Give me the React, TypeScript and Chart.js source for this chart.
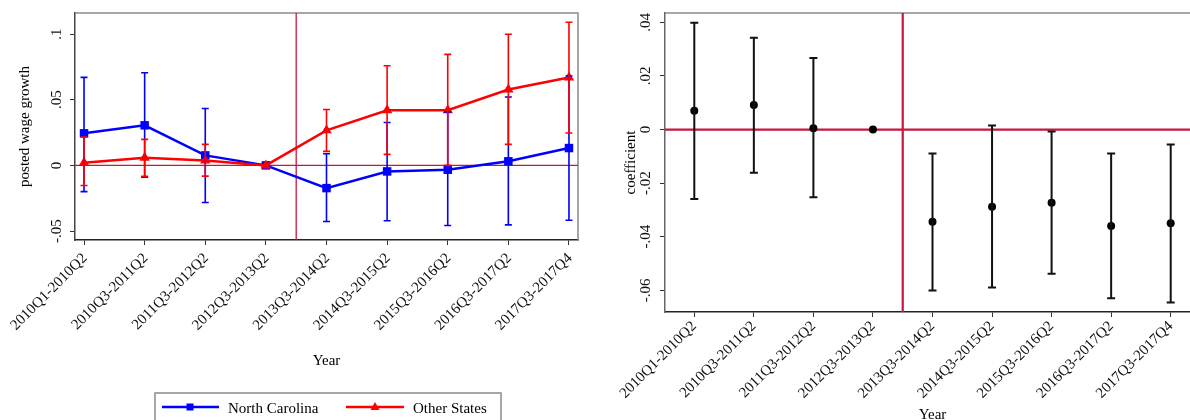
import React, { useEffect, useRef } from 'react';
import { Chart, registerables } from 'chart.js';

Chart.register(...registerables);

// ---------- data ----------
const periods = [
  '2010Q1-2010Q2', '2010Q3-2011Q2', '2011Q3-2012Q2', '2012Q3-2013Q2', '2013Q3-2014Q2',
  '2014Q3-2015Q2', '2015Q3-2016Q2', '2016Q3-2017Q2', '2017Q3-2017Q4',
];

const ncValues = [0.0244, 0.0305, 0.0076, 0, -0.0173, -0.0046, -0.0033, 0.0031, 0.0132];
const ncLower = [-0.020, -0.009, -0.0283, null, -0.0427, -0.0422, -0.0458, -0.0453, -0.0418];
const ncUpper = [0.067, 0.0705, 0.0433, null, 0.0089, 0.0326, 0.0407, 0.052, 0.068];

const otherValues = [0.002, 0.0059, 0.0038, 0, 0.0267, 0.042, 0.042, 0.0578, 0.0669];
const otherLower = [-0.0153, -0.0084, -0.0082, null, 0.0107, 0.0084, 0.0, 0.016, 0.0247];
const otherUpper = [0.0216, 0.0198, 0.016, null, 0.0425, 0.0758, 0.0845, 0.0998, 0.109];

const coefValues = [0.007, 0.0092, 0.0005, 0, -0.0344, -0.0288, -0.0273, -0.036, -0.035];
const coefLower = [-0.0259, -0.0161, -0.0253, null, -0.0601, -0.059, -0.0538, -0.063, -0.0646];
const coefUpper = [0.0399, 0.0343, 0.0267, null, -0.0089, 0.0015, -0.0007, -0.0089, -0.0056];

const leftYTicks = [0.1, 0.05, 0, -0.05];
const leftYLabels = ['.1', '.05', '0', '-.05'];
const rightYTicks = [0.04, 0.02, 0, -0.02, -0.04, -0.06];
const rightYLabels = ['.04', '.02', '0', '-.02', '-.04', '-.06'];

const legendLabels = ['North Carolina', 'Other States'];

const FONT = '15px "Liberation Serif", "Times New Roman", serif';
const REF_RED = '#C8163E';

// ---------- plugins ----------
function makeDecoPlugin(cfg: any) {
  return {
    id: 'deco',
    beforeDatasetsDraw(chart: any) {
      const { ctx, chartArea: a } = chart;
      const xs = chart.scales.x;
      const ys = chart.scales.y;
      ctx.save();
      ctx.strokeStyle = '#8a8a8a';
      ctx.lineWidth = 1.5;
      ctx.beginPath();
      ctx.moveTo(a.left, a.top);
      ctx.lineTo(a.right, a.top);
      ctx.lineTo(a.right, a.bottom);
      ctx.stroke();
      ctx.beginPath();
      ctx.rect(a.left, a.top, a.right - a.left, a.bottom - a.top);
      ctx.clip();
      ctx.strokeStyle = REF_RED;
      ctx.lineWidth = cfg.refWidth;
      const vx = xs.getPixelForValue(3.5);
      const hy = ys.getPixelForValue(0);
      ctx.beginPath();
      ctx.moveTo(a.left, hy);
      ctx.lineTo(a.right, hy);
      ctx.moveTo(vx, a.top);
      ctx.lineTo(vx, a.bottom);
      ctx.stroke();
      ctx.restore();
    },
    afterDatasetsDraw(chart: any) {
      const { ctx } = chart;
      const xs = chart.scales.x;
      const ys = chart.scales.y;
      ctx.save();
      chart.data.datasets.forEach((ds: any) => {
        if (!ds.errLower) return;
        ctx.strokeStyle = ds.errColor;
        ctx.lineWidth = ds.errWidth;
        ds.errLower.forEach((lo: number | null, i: number) => {
          const hi = ds.errUpper[i];
          if (lo == null || hi == null) return;
          const px = xs.getPixelForValue(i);
          const pl = ys.getPixelForValue(lo);
          const ph = ys.getPixelForValue(hi);
          const c = ds.capHalf;
          ctx.beginPath();
          ctx.moveTo(px, pl);
          ctx.lineTo(px, ph);
          ctx.moveTo(px - c, pl);
          ctx.lineTo(px + c, pl);
          ctx.moveTo(px - c, ph);
          ctx.lineTo(px + c, ph);
          ctx.stroke();
        });
      });
      ctx.restore();
    },
    afterDraw(chart: any) {
      const { ctx, chartArea: a } = chart;
      const xs = chart.scales.x;
      const ys = chart.scales.y;
      ctx.save();
      ctx.font = FONT;
      ctx.fillStyle = '#111';
      cfg.yTicks.forEach((v: number, i: number) => {
        const py = ys.getPixelForValue(v);
        ctx.save();
        ctx.translate(cfg.yLabelX, py);
        ctx.rotate(-Math.PI / 2);
        ctx.textAlign = 'center';
        ctx.textBaseline = 'alphabetic';
        ctx.fillText(cfg.yLabels[i], 0, 0);
        ctx.restore();
      });
      periods.forEach((p, i) => {
        const px = xs.getPixelForValue(i);
        ctx.save();
        ctx.translate(px + cfg.xLabelDX, cfg.xLabelY);
        ctx.rotate(-Math.PI / 4);
        ctx.textAlign = 'right';
        ctx.textBaseline = 'middle';
        ctx.fillText(p, 0, 0);
        ctx.restore();
      });
      ctx.fillStyle = '#000';
      ctx.save();
      ctx.translate(cfg.yTitleX, (a.top + a.bottom) / 2);
      ctx.rotate(-Math.PI / 2);
      ctx.textAlign = 'center';
      ctx.textBaseline = 'alphabetic';
      ctx.fillText(cfg.yTitle, 0, 0);
      ctx.restore();
      ctx.textAlign = 'center';
      ctx.textBaseline = 'alphabetic';
      ctx.fillText('Year', (a.left + a.right) / 2, cfg.xTitleY);
      if (cfg.legend) {
        ctx.strokeStyle = '#8a8a8a';
        ctx.lineWidth = 1.5;
        ctx.strokeRect(155, 393, 346, 40);
        const ly = 407;
        ctx.strokeStyle = '#0000ff';
        ctx.lineWidth = 2.5;
        ctx.beginPath();
        ctx.moveTo(162, ly);
        ctx.lineTo(219, ly);
        ctx.stroke();
        ctx.fillStyle = '#0000ff';
        ctx.fillRect(190 - 3.5, ly - 3.5, 7, 7);
        ctx.strokeStyle = '#ff0000';
        ctx.beginPath();
        ctx.moveTo(346, ly);
        ctx.lineTo(404, ly);
        ctx.stroke();
        ctx.fillStyle = '#ff0000';
        ctx.beginPath();
        ctx.moveTo(375, ly - 5);
        ctx.lineTo(379.5, ly + 3);
        ctx.lineTo(370.5, ly + 3);
        ctx.closePath();
        ctx.fill();
        ctx.fillStyle = '#000';
        ctx.textAlign = 'left';
        ctx.fillText(legendLabels[0], 228, 413);
        ctx.fillText(legendLabels[1], 413, 413);
      }
      ctx.restore();
    },
  };
}

function axisConfig(min: number, max: number, ticks: number[], fitProp: 'width' | 'height', fitVal: number, borderColor: string) {
  return {
    type: 'linear' as const,
    min,
    max,
    afterBuildTicks: (s: any) => {
      s.ticks = ticks.map((v) => ({ value: v }));
    },
    afterFit: (s: any) => {
      s[fitProp] = fitVal;
    },
    ticks: { display: false },
    grid: { drawOnChartArea: false, drawTicks: true, tickLength: 5, color: '#333', lineWidth: 1 },
    border: { display: true, color: borderColor, width: 1.5 },
  };
}

function LeftChart() {
  const ref = useRef<HTMLCanvasElement>(null);
  useEffect(() => {
    const chart = new Chart(ref.current as HTMLCanvasElement, {
      type: 'line',
      data: {
        datasets: [
          {
            label: legendLabels[0],
            data: ncValues.map((v, i) => ({ x: i, y: v })),
            borderColor: '#0000ff',
            backgroundColor: '#0000ff',
            borderWidth: 2.5,
            pointStyle: 'rect',
            pointRadius: 6,
            pointBorderWidth: 0,
            order: 1,
            errLower: ncLower,
            errUpper: ncUpper,
            errColor: '#0000ff',
            errWidth: 1.6,
            capHalf: 3.5,
          } as any,
          {
            label: legendLabels[1],
            data: otherValues.map((v, i) => ({ x: i, y: v })),
            borderColor: '#ff0000',
            backgroundColor: '#ff0000',
            borderWidth: 2.5,
            pointStyle: 'triangle',
            pointRadius: 6,
            pointBorderWidth: 0,
            order: 0,
            errLower: otherLower,
            errUpper: otherUpper,
            errColor: '#ff0000',
            errWidth: 1.6,
            capHalf: 3.5,
          } as any,
        ],
      },
      options: {
        animation: false,
        responsive: false,
        layout: { padding: { left: 0, top: 13, right: 22, bottom: 0 } },
        plugins: { legend: { display: false }, tooltip: { enabled: false } },
        scales: {
          x: axisConfig(-0.149, 8.149, periods.map((_, i) => i), 'height', 180, '#222'),
          y: axisConfig(-0.0568, 0.116, leftYTicks, 'width', 75, '#444'),
        },
      },
      plugins: [
        makeDecoPlugin({
          refWidth: 1.3,
          yTicks: leftYTicks,
          yLabels: leftYLabels,
          yLabelX: 61,
          xLabelDX: 1,
          xLabelY: 256,
          yTitle: 'posted wage growth',
          yTitleX: 29,
          xTitleY: 365,
          legend: true,
        }),
      ],
    });
    return () => chart.destroy();
  }, []);
  return (
    <canvas
      ref={ref}
      width={600}
      height={420}
      style={{ position: 'absolute', left: 0, top: 0, width: 600, height: 420 }}
    />
  );
}

function RightChart() {
  const ref = useRef<HTMLCanvasElement>(null);
  useEffect(() => {
    const chart = new Chart(ref.current as HTMLCanvasElement, {
      type: 'scatter',
      data: {
        datasets: [
          {
            label: 'coefficient',
            data: coefValues.map((v, i) => ({ x: i, y: v })),
            borderColor: '#000',
            backgroundColor: '#000',
            pointStyle: 'circle',
            pointRadius: 4,
            pointBorderWidth: 0,
            showLine: false,
            errLower: coefLower,
            errUpper: coefUpper,
            errColor: '#111',
            errWidth: 2,
            capHalf: 4,
          } as any,
        ],
      },
      options: {
        animation: false,
        responsive: false,
        layout: { padding: { left: 0, top: 13, right: 10, bottom: 0 } },
        plugins: { legend: { display: false }, tooltip: { enabled: false } },
        scales: {
          x: axisConfig(-0.492, 8.492, periods.map((_, i) => i), 'height', 108, '#222'),
          y: axisConfig(-0.0681, 0.0435, rightYTicks, 'width', 65, '#666'),
        },
      },
      plugins: [
        makeDecoPlugin({
          refWidth: 2.2,
          yTicks: rightYTicks,
          yLabels: rightYLabels,
          yLabelX: 50,
          xLabelDX: 0,
          xLabelY: 324,
          yTitle: 'coefficient',
          yTitleX: 35,
          xTitleY: 419,
          legend: false,
        }),
      ],
    });
    return () => chart.destroy();
  }, []);
  return (
    <canvas
      ref={ref}
      width={610}
      height={420}
      style={{ position: 'absolute', left: 600, top: 0, width: 610, height: 420 }}
    />
  );
}

export default function App() {
  return (
    <div
      style={{
        position: 'fixed',
        left: 0,
        top: 0,
        width: 1190,
        height: 420,
        overflow: 'hidden',
        background: '#fff',
      }}
    >
      <LeftChart />
      <RightChart />
    </div>
  );
}
